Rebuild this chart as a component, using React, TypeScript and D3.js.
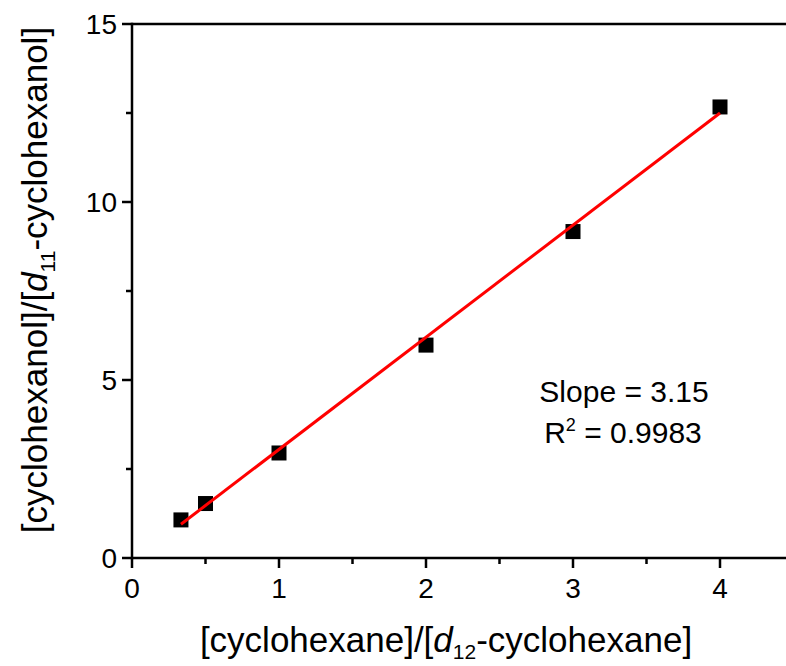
import React from "react";
import * as d3 from "d3";

const xValues = [0.333, 0.5, 1, 2, 3, 4];
const yValues = [1.07, 1.53, 2.95, 5.98, 9.17, 12.67];
const fitSlope = 3.15;
const fitIntercept = -0.1;
const fitRange = [0.333, 4];
const xMajorTicks = [0, 1, 2, 3, 4];
const xMinorTicks = [0.5, 1.5, 2.5, 3.5, 4.5];
const yMajorTicks = [0, 5, 10, 15];
const yMinorTicks = [2.5, 7.5, 12.5];

const W = 786;
const H = 666;
const FONT = "'Liberation Sans', Arial, sans-serif";

export default function App() {
  const x = d3.scaleLinear().domain([0, 4]).range([132, 720]);
  const y = d3.scaleLinear().domain([0, 15]).range([558, 24]);
  const x0 = x(0);
  const y0 = y(0);
  const yTop = y(15);
  const xEnd = W + 10;
  const sq = 15;
  const line = d3
    .line<number>()
    .x((d) => x(d))
    .y((d) => y(fitSlope * d + fitIntercept));

  return (
    <svg
      width={W}
      height={H}
      style={{ position: "absolute", left: 0, top: 0, background: "#fff" }}
      fontFamily={FONT}
    >
      <rect x={0} y={0} width={W} height={H} fill="#fff" />
      {/* points */}
      {xValues.map((xv, i) => (
        <rect
          key={i}
          x={x(xv) - sq / 2}
          y={y(yValues[i]) - sq / 2}
          width={sq}
          height={sq}
          fill="#000"
        />
      ))}
      {/* fit line */}
      <path d={line(fitRange) || ""} stroke="#ff0000" strokeWidth={3} fill="none" />
      {/* axes */}
      <line x1={x0} x2={xEnd} y1={y0} y2={y0} stroke="#000" strokeWidth={2.5} />
      <line x1={x0} x2={xEnd} y1={yTop} y2={yTop} stroke="#000" strokeWidth={2.5} />
      <line x1={x0} x2={x0} y1={yTop - 1.25} y2={y0 + 1.25} stroke="#000" strokeWidth={2.5} />
      {xMajorTicks.map((t) => (
        <g key={"xm" + t}>
          <line x1={x(t)} x2={x(t)} y1={y0} y2={y0 + 10} stroke="#000" strokeWidth={2.5} />
          <text x={x(t)} y={598} fontSize={28} textAnchor="middle" fill="#000">
            {t}
          </text>
        </g>
      ))}
      {xMinorTicks.map((t) => (
        <line key={"xn" + t} x1={x(t)} x2={x(t)} y1={y0} y2={y0 + 6} stroke="#000" strokeWidth={2.5} />
      ))}
      {yMajorTicks.map((t) => (
        <g key={"ym" + t}>
          <line x1={x0 - 10} x2={x0} y1={y(t)} y2={y(t)} stroke="#000" strokeWidth={2.5} />
          <text x={x0 - 15} y={y(t) + 10} fontSize={28} textAnchor="end" fill="#000">
            {t}
          </text>
        </g>
      ))}
      {yMinorTicks.map((t) => (
        <line key={"yn" + t} x1={x0 - 6} x2={x0} y1={y(t)} y2={y(t)} stroke="#000" strokeWidth={2.5} />
      ))}
      {/* annotation */}
      <text x={624} y={402} fontSize={30} textAnchor="middle" fill="#000">
        Slope = 3.15
      </text>
      <text x={623} y={443} fontSize={30} textAnchor="middle" fill="#000">
        R<tspan dy={-12} fontSize={18}>2</tspan>
        <tspan dy={12}> = 0.9983</tspan>
      </text>
      {/* x label */}
      <text x={446} y={652} fontSize={35} textAnchor="middle" fill="#000">
        [cyclohexane]/[<tspan fontStyle="italic">d</tspan>
        <tspan dy={7} fontSize={21}>12</tspan>
        <tspan dy={-7}>-cyclohexane]</tspan>
      </text>
      {/* y label */}
      <text
        transform={`translate(47, ${280}) rotate(-90)`}
        fontSize={35}
        textAnchor="middle"
        fill="#000"
      >
        [cyclohexanol]/[<tspan fontStyle="italic">d</tspan>
        <tspan dy={8} fontSize={21}>11</tspan>
        <tspan dy={-8}>-cyclohexanol]</tspan>
      </text>
    </svg>
  );
}
